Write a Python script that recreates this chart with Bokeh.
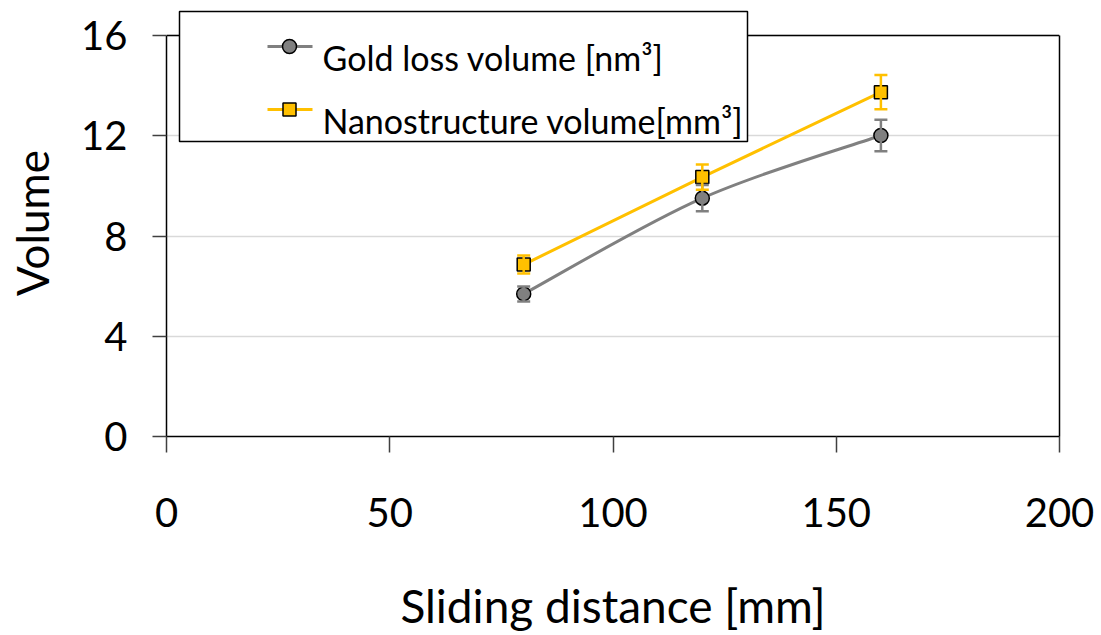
from bokeh.plotting import figure
from bokeh.models import (ColumnDataSource, Whisker, TeeHead, Label, BoxAnnotation,
                          FixedTicker, Range1d, LinearAxis, Span)
from bokeh.embed import file_html
from bokeh.resources import INLINE

# --- data -------------------------------------------------------------
distance = [80, 120, 160]                 # sliding distance [mm]
gold_loss = [5.69, 9.51, 12.01]           # gold loss volume [nm^3]
gold_err = [0.30, 0.52, 0.63]
nano_vol = [6.86, 10.35, 13.74]           # nanostructure volume [mm^3]
nano_err = [0.36, 0.50, 0.68]
x_ticks = [0, 50, 100, 150, 200]
y_ticks = [0, 4, 8, 12, 16]

GRAY = "#808080"
GOLD = "#FFC000"
FONT = "Lato"

W, H = 1101, 635
# plotted area (0..200 x 0..16) in canvas pixels
LEFT, RIGHT, TOP16, BOTTOM = 166, 1059, 35, 436
FRAME_TOP = 9                      # frame reaches a little higher to hold the legend box
X0, X1, Y0, Y16 = 0, 200, 0, 16
Y_TOP = Y0 + (BOTTOM - FRAME_TOP) * (Y16 - Y0) / (BOTTOM - TOP16)

p = figure(width=W, height=H, output_backend="svg", toolbar_location=None,
           x_range=Range1d(X0, X1), y_range=Range1d(Y0, Y_TOP),
           min_border_left=LEFT, min_border_right=W - RIGHT,
           min_border_top=FRAME_TOP, min_border_bottom=H - BOTTOM,
           background_fill_color="white", border_fill_color="white")
p.outline_line_color = None


def sx(px):
    """canvas pixel -> x data value"""
    return X0 + (px - LEFT) * (X1 - X0) / (RIGHT - LEFT)


def sy(py):
    """canvas pixel -> y data value"""
    return Y0 + (BOTTOM - py) * (Y16 - Y0) / (BOTTOM - TOP16)


# --- axes & grid --------------------------------------------------------
p.xaxis.ticker = FixedTicker(ticks=x_ticks)
p.yaxis.ticker = FixedTicker(ticks=y_ticks)
p.yaxis.bounds = (Y0, Y16)
for ax in (p.xaxis, p.yaxis):
    ax.minor_tick_line_color = None
    ax.axis_line_color = "black"
    ax.axis_line_width = 1.5
    ax.major_tick_line_color = "#404040"
    ax.major_tick_line_width = 1.5
    ax.major_tick_in = 0
    ax.major_label_text_font = FONT
    ax.major_label_text_font_size = "40px"
    ax.major_label_text_color = "black"
    ax.axis_label_text_font = FONT
    ax.axis_label_text_font_style = "normal"
    ax.axis_label_text_color = "black"
p.xaxis.axis_label_text_font_size = "46px"
p.yaxis.axis_label_text_font_size = "44px"
p.xaxis.major_tick_out = 16
p.yaxis.major_tick_out = 14
p.xaxis.major_label_standoff = 45
p.yaxis.major_label_standoff = 25
p.xaxis.axis_label = "Sliding distance [mm]"
p.yaxis.axis_label = "Volume"
p.xaxis.axis_label_standoff = 48
p.yaxis.axis_label_standoff = 20

# right-hand border of the plotted area
right_edge = LinearAxis(bounds=(Y0, Y16), ticker=FixedTicker(ticks=[]),
                        axis_line_color="black", axis_line_width=1.5,
                        major_tick_line_color=None, minor_tick_line_color=None,
                        major_label_text_font_size="0px")
p.add_layout(right_edge, "right")

p.xgrid.grid_line_color = None
p.ygrid.grid_line_color = "#d9d9d9"
p.ygrid.grid_line_width = 1.5

# top border of the plotted area
p.add_layout(Span(location=Y16, dimension="width", line_color="black",
                  line_width=1.5, level="underlay"))

# --- error bars -----------------------------------------------------------
gold_src = ColumnDataSource(dict(
    x=distance, y=gold_loss,
    lo=[v - e for v, e in zip(gold_loss, gold_err)],
    hi=[v + e for v, e in zip(gold_loss, gold_err)]))
nano_src = ColumnDataSource(dict(
    x=distance, y=nano_vol,
    lo=[v - e for v, e in zip(nano_vol, nano_err)],
    hi=[v + e for v, e in zip(nano_vol, nano_err)]))

for src, col in ((gold_src, GRAY), (nano_src, GOLD)):
    w = Whisker(source=src, base="x", lower="lo", upper="hi",
                line_color=col, line_width=2.5, level="glyph",
                lower_head=TeeHead(size=13, line_color=col, line_width=2.5),
                upper_head=TeeHead(size=13, line_color=col, line_width=2.5))
    p.add_layout(w)

# --- gold loss: smoothed curve (cubic Bezier through the points) -----------
pts = list(zip(distance, gold_loss))
ext = [pts[0]] + pts + [pts[-1]]
bx0, by0, bx1, by1, bc0x, bc0y, bc1x, bc1y = ([] for _ in range(8))
for i in range(len(pts) - 1):
    pm, pa, pb, pn = ext[i], ext[i + 1], ext[i + 2], ext[i + 3]
    bx0.append(pa[0]); by0.append(pa[1])
    bx1.append(pb[0]); by1.append(pb[1])
    bc0x.append(pa[0] + (pb[0] - pm[0]) / 6); bc0y.append(pa[1] + (pb[1] - pm[1]) / 6)
    bc1x.append(pb[0] - (pn[0] - pa[0]) / 6); bc1y.append(pb[1] - (pn[1] - pa[1]) / 6)
p.bezier(x0=bx0, y0=by0, x1=bx1, y1=by1, cx0=bc0x, cy0=bc0y, cx1=bc1x, cy1=bc1y,
         line_color=GRAY, line_width=3)

# --- nanostructure: straight segments ---------------------------------------
p.line(distance, nano_vol, line_color=GOLD, line_width=3)

p.scatter("x", "y", source=gold_src, marker="circle", size=14,
          fill_color=GRAY, line_color="black", line_width=1.5)
p.scatter("x", "y", source=nano_src, marker="square", size=13,
          fill_color=GOLD, line_color="black", line_width=1.5)

# --- legend -------------------------------------------------------------
box = BoxAnnotation(left=sx(179), right=sx(747), top=sy(11), bottom=sy(141),
                    fill_color="white", fill_alpha=1.0,
                    line_color="black", line_alpha=1.0, line_width=1.5,
                    level="guide")
p.add_layout(box)

entries = [("Gold loss volume [nm³]", GRAY, "circle", 46, 57),
           ("Nanostructure volume[mm³]", GOLD, "square", 109, 120)]
for label, col, mk, ymid, ybase in entries:
    ln = p.line([sx(267), sx(312)], [sy(ymid), sy(ymid)], line_color=col, line_width=3)
    ln.level = "annotation"
    sc = p.scatter([sx(289)], [sy(ymid)], marker=mk, size=13 if mk == "square" else 14,
                   fill_color=col, line_color="black", line_width=1.5)
    sc.level = "annotation"
    p.add_layout(Label(x=sx(322), y=sy(ybase), text=label, text_font=FONT,
                       text_font_size="34px", text_color="black",
                       text_baseline="alphabetic", level="overlay"))

open("out.html", "w").write(file_html(p, INLINE))
